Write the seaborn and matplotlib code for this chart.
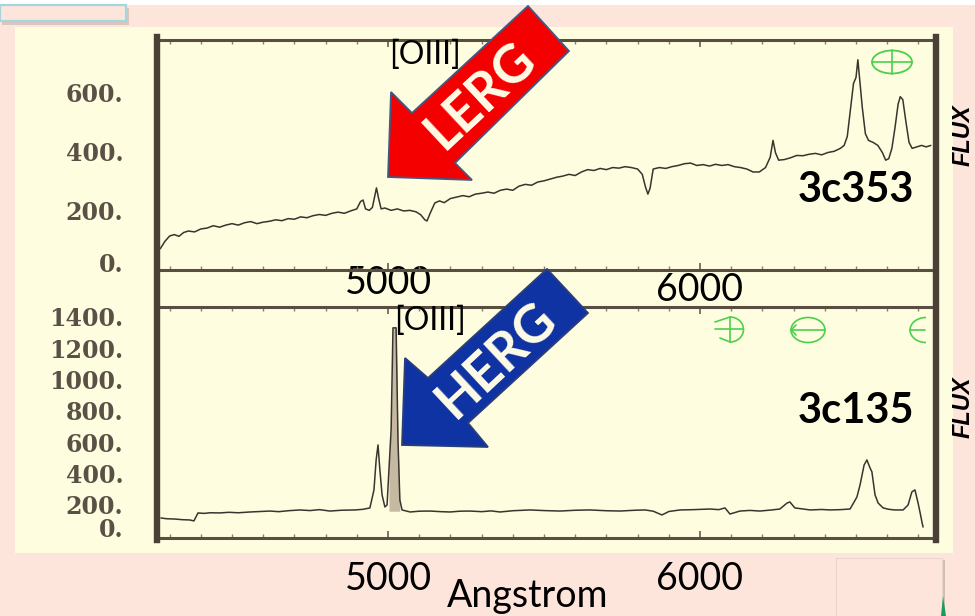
import numpy as np
import pandas as pd
import matplotlib
matplotlib.use("Agg")
import matplotlib.pyplot as plt
import seaborn as sns
from matplotlib.patches import Rectangle, Polygon, Ellipse, Arc
from matplotlib.lines import Line2D
from matplotlib.transforms import Affine2D, ScaledTranslation
from matplotlib.ticker import MultipleLocator

# ---------------- data ----------------
wave_3c353 = [4270, 4285, 4300, 4315, 4330, 4345, 4360, 4380, 4400, 4420,
              4440, 4460, 4480, 4500, 4520, 4540, 4560, 4580, 4600, 4620,
              4640, 4660, 4680, 4700, 4720, 4740, 4760, 4780, 4800, 4820,
              4840, 4860, 4880, 4900, 4912, 4920, 4928, 4940, 4950, 4958,
              4963, 4970, 4978, 4990, 5010, 5030, 5050, 5070, 5090, 5105,
              5118, 5125, 5135, 5150, 5165, 5180, 5200, 5220, 5240, 5260,
              5280, 5300, 5320, 5340, 5360, 5380, 5400, 5420, 5440, 5460,
              5480, 5500, 5520, 5540, 5560, 5580, 5600, 5620, 5640, 5660,
              5680, 5700, 5720, 5740, 5760, 5780, 5800, 5815, 5825, 5833,
              5840, 5850, 5870, 5890, 5910, 5930, 5950, 5970, 5990, 6010,
              6030, 6050, 6070, 6090, 6110, 6130, 6150, 6170, 6190, 6210,
              6225, 6234, 6242, 6252, 6270, 6290, 6310, 6330, 6350, 6370,
              6390, 6410, 6430, 6450, 6462, 6472, 6482, 6492, 6500, 6506,
              6512, 6520, 6530, 6540, 6555, 6570, 6585, 6595, 6605, 6615,
              6625, 6635, 6642, 6650, 6660, 6670, 6680, 6695, 6710, 6725,
              6740]
flux_3c353 = [70, 95, 113, 118, 112, 125, 130, 127, 137, 140,
              148, 143, 150, 155, 150, 158, 162, 155, 160, 163,
              168, 165, 172, 170, 178, 175, 182, 186, 183, 190,
              194, 190, 198, 205, 230, 235, 205, 200, 210, 250,
              276, 240, 205, 208, 200, 205, 198, 200, 195, 185,
              168, 164, 190, 225, 232, 226, 240, 245, 250, 246,
              255, 258, 262, 258, 268, 272, 268, 282, 288, 285,
              296, 300, 306, 312, 316, 322, 318, 330, 338, 335,
              342, 338, 345, 343, 348, 345, 340, 322, 280, 255,
              275, 340, 345, 342, 348, 352, 358, 360, 352, 355,
              350, 356, 352, 355, 348, 345, 340, 330, 330, 345,
              380, 437, 395, 370, 372, 378, 386, 385, 390, 393,
              388, 396, 400, 410, 420, 450, 540, 630, 650, 710,
              640, 550, 460, 437, 430, 420, 395, 370, 375, 410,
              480, 560, 585, 575, 500, 430, 410, 415, 420, 415,
              420]

wave_3c135 = [4272, 4290, 4317, 4340, 4365, 4378, 4391, 4410, 4430, 4462,
              4490, 4520, 4558, 4590, 4622, 4650, 4680, 4718, 4750, 4780,
              4814, 4850, 4894, 4920, 4942, 4955, 4962, 4968, 4974, 4981,
              4990, 4997, 5003, 5010, 5016, 5026, 5032, 5038, 5045, 5071,
              5100, 5135, 5170, 5199, 5230, 5263, 5300, 5330, 5359, 5400,
              5455, 5500, 5551, 5600, 5647, 5700, 5744, 5790, 5824, 5850,
              5878, 5900, 5936, 5980, 6032, 6060, 6080, 6096, 6128, 6160,
              6192, 6230, 6256, 6279, 6288, 6304, 6353, 6390, 6417, 6450,
              6481, 6494, 6503, 6513, 6526, 6535, 6545, 6551, 6561, 6571,
              6587, 6605, 6625, 6651, 6667, 6679, 6689, 6699, 6705, 6712,
              6715]
flux_3c135 = [117, 112, 110, 106, 104, 98, 149, 146, 150, 149,
              153, 150, 155, 158, 161, 157, 163, 168, 164, 170,
              161, 166, 168, 172, 181, 296, 487, 583, 423, 264,
              187, 200, 423, 679, 1330, 1330, 615, 232, 168, 155,
              160, 161, 157, 155, 160, 161, 157, 162, 155, 163,
              168, 164, 161, 166, 168, 163, 161, 166, 168, 160,
              136, 158, 168, 170, 174, 170, 181, 142, 161, 165,
              161, 168, 174, 212, 219, 181, 168, 171, 168, 170,
              174, 219, 251, 328, 455, 487, 436, 411, 264, 212,
              181, 172, 168, 168, 200, 283, 296, 212, 155, 85,
              59]

yticks_top = [0, 200, 400, 600]
yticks_bottom = [0, 200, 400, 600, 800, 1000, 1200, 1400]
xticks = [5000, 6000]
xtick_labels = ["5000", "6000"]
names = ["3c353", "3c135"]
line_label = "[OIII]"
arrow_labels = ["LERG", "HERG"]
xlabel = "Angstrom"
ylabel = "FLUX"

# ---------------- style ----------------
sns.set_theme(style="white")
plt.rcParams['font.family'] = ['Lato', 'DejaVu Sans']

W, H = 975, 616
PINK = '#fde5dc'
CREAM = '#fefde0'
LINEC = '#3a342e'
SPINE = '#5a4e42'
THICK = '#4a4036'
GREEN = '#4cd04c'

fig = plt.figure(figsize=(W / 100, H / 100), dpi=100, facecolor=PINK)
px = Affine2D().scale(1 / W, -1 / H).translate(0, 1) + fig.transFigure


def fr(x0, y0, x1, y1):
    return [x0 / W, 1 - y1 / H, (x1 - x0) / W, (y1 - y0) / H]


# background decorations
fig.add_artist(Rectangle((0, 0), W, 5, transform=px, fc='white', ec='none', zorder=-5))
fig.add_artist(Rectangle((15, 27), 938, 526, transform=px, fc=CREAM, ec='none', zorder=-4))
fig.add_artist(Rectangle((2, 8), 127, 17, transform=px, fc='#d9c6be', ec='none', zorder=-3))
fig.add_artist(Rectangle((0, 5), 126, 16, transform=px, fc=PINK, ec='#a6d6dc', lw=1.6, zorder=-2))
fig.add_artist(Rectangle((838, 560), 107, 60, transform=px, fc='#d0beb6', ec='none', zorder=-3))
fig.add_artist(Rectangle((836, 558), 106, 60, transform=px, fc=PINK, ec='#e6d6ce', lw=0.8, zorder=-2))
fig.add_artist(Polygon([(941, 616), (946, 616), (943, 596)], closed=True, transform=px,
                       fc='#1a9a60', ec='none', zorder=-2))

X0, X1 = 156.5, 936
xlim = (5000 + (X0 - 388) / 0.312, 5000 + (X1 - 388) / 0.312)

ax_top = fig.add_axes(fr(X0, 40, X1, 270))
ax_bot = fig.add_axes(fr(X0, 307, X1, 538))
ax_frame = fig.add_axes(fr(X0, 37, X1, 540))

df_top = pd.DataFrame({'wave': wave_3c353, 'flux': flux_3c353})
df_bot = pd.DataFrame({'wave': wave_3c135, 'flux': flux_3c135})

sns.lineplot(data=df_top, x='wave', y='flux', ax=ax_top, color=LINEC, lw=1.1)
sns.lineplot(data=df_bot, x='wave', y='flux', ax=ax_bot, color=LINEC, lw=1.1)

# shaded [OIII] 5007 column in the lower spectrum
w = np.array(wave_3c135)
f = np.array(flux_3c135)
m = (w >= 5003) & (w <= 5038)
ax_bot.fill_between(w[m], f[m], 160, color='#bcae98', alpha=0.85, lw=0)

ax_top.set_xlim(*xlim)
ax_bot.set_xlim(*xlim)
ax_top.set_ylim(-2, 777)
ax_bot.set_ylim(-11, 1463)

serif = dict(fontfamily='DejaVu Serif', fontweight='bold', fontsize=17, color='#5a5046')
for ax, yt in ((ax_top, yticks_top), (ax_bot, yticks_bottom)):
    ax.set_facecolor('none')
    ax.set_xlabel('')
    ax.set_ylabel('')
    for s in ('left', 'right'):
        ax.spines[s].set_visible(False)
    for s in ('top', 'bottom'):
        ax.spines[s].set_visible(True)
        ax.spines[s].set_linewidth(2.2)
        ax.spines[s].set_color(SPINE)
    ax.set_yticks(yt)
    ax.set_yticklabels([f"{v}." for v in yt], **serif)
    ax.set_xticks(xticks)
    ax.set_xticklabels(xtick_labels, fontsize=27, color='black', fontfamily=['Lato', 'DejaVu Sans'])
    ax.xaxis.set_minor_locator(MultipleLocator(100))
    ax.tick_params(axis='y', left=False, right=False, length=0, pad=24)
    ax.tick_params(axis='x', which='major', direction='in', top=True, bottom=True,
                   length=5, width=1.2, color='#6a5d50')
    ax.tick_params(axis='x', which='minor', direction='in', top=True, bottom=True,
                   length=3, width=1.0, color='#8a7d6d')

ax_top.tick_params(axis='x', which='major', pad=-3.6)
ax_bot.tick_params(axis='x', which='major', pad=16.5)

# small label offsets as in the reference
def shift(lab, dy_px):
    lab.set_transform(lab.get_transform() + ScaledTranslation(0, dy_px / 100, fig.dpi_scale_trans))

shift(ax_top.get_yticklabels()[0], 7)
shift(ax_bot.get_yticklabels()[0], 9)
shift(ax_top.get_xticklabels()[1], -7)

ax_frame.set_facecolor('none')
ax_frame.set_xticks([])
ax_frame.set_yticks([])
for s in ('top', 'bottom'):
    ax_frame.spines[s].set_visible(False)
for s in ('left', 'right'):
    ax_frame.spines[s].set_visible(True)
    ax_frame.spines[s].set_linewidth(4.6)
    ax_frame.spines[s].set_color(THICK)

# green instrument symbols
def gl(pts):
    xs, ys = zip(*pts)
    fig.add_artist(Line2D(xs, ys, transform=px, color=GREEN, lw=1.2, zorder=4))

fig.add_artist(Ellipse((892, 62), 40, 23, transform=px, fill=False, ec=GREEN, lw=1.3, zorder=4))
gl([(872, 62), (912, 62)])
gl([(892, 50), (892, 74)])

fig.add_artist(Arc((730, 329.5), 27, 25, theta1=-90, theta2=90, transform=px, ec=GREEN, lw=1.2, zorder=4))
gl([(715, 329), (743, 329)])
gl([(730, 317), (730, 342)])
gl([(715, 322), (730, 317)])
gl([(720, 338), (730, 342)])

fig.add_artist(Ellipse((808, 330), 34, 25, transform=px, fill=False, ec=GREEN, lw=1.2, zorder=4))
gl([(791, 330), (825, 330)])
gl([(796, 325), (791, 330), (796, 335)])

fig.add_artist(Arc((926, 330), 32, 25, theta1=90, theta2=270, transform=px, ec=GREEN, lw=1.2, zorder=4))
gl([(910, 330), (925, 330)])

# arrows
red_arrow = [(528, 6), (569, 51), (455, 163), (472, 180), (388, 177), (391, 92), (412, 113)]
blue_arrow = [(547, 269), (588, 313), (468, 423), (488, 447), (402, 445), (405, 358), (428, 378)]
fig.add_artist(Polygon(red_arrow, closed=True, transform=px, fc='#f40000', ec='#3e5a86', lw=1.3, zorder=5))
fig.add_artist(Polygon(blue_arrow, closed=True, transform=px, fc='#0f33a2', ec='#2a3f7a', lw=1.3, zorder=5))
fig.text(481, 95, arrow_labels[0], transform=px, rotation=43, rotation_mode='anchor',
         ha='center', va='center', fontsize=38, fontweight='bold', color='#fffce6', zorder=6)
fig.text(497, 360, arrow_labels[1], transform=px, rotation=43, rotation_mode='anchor',
         ha='center', va='center', fontsize=38, fontweight='bold', color='#fffce6', zorder=6)

# slide annotations
fig.text(425, 55, line_label, transform=px, ha='center', va='center', fontsize=23, color='black', zorder=7)
fig.text(430, 321, line_label, transform=px, ha='center', va='center', fontsize=23, color='black', zorder=7)
fig.text(856, 190, names[0], transform=px, ha='center', va='center', fontsize=30, fontweight='bold', color='black', zorder=7)
fig.text(856, 411, names[1], transform=px, ha='center', va='center', fontsize=30, fontweight='bold', color='black', zorder=7)
fig.text(528, 607, xlabel, transform=px, ha='center', va='baseline', fontsize=27, color='black', zorder=7)
for yc in (135, 407):
    fig.text(952, yc, ylabel, transform=px, rotation=90, ha='left', va='center', fontsize=17,
             fontweight='bold', fontstyle='italic', fontfamily=['Liberation Sans', 'DejaVu Sans'],
             color='black', zorder=7)

fig.savefig('out.png', dpi=100, facecolor=PINK)
